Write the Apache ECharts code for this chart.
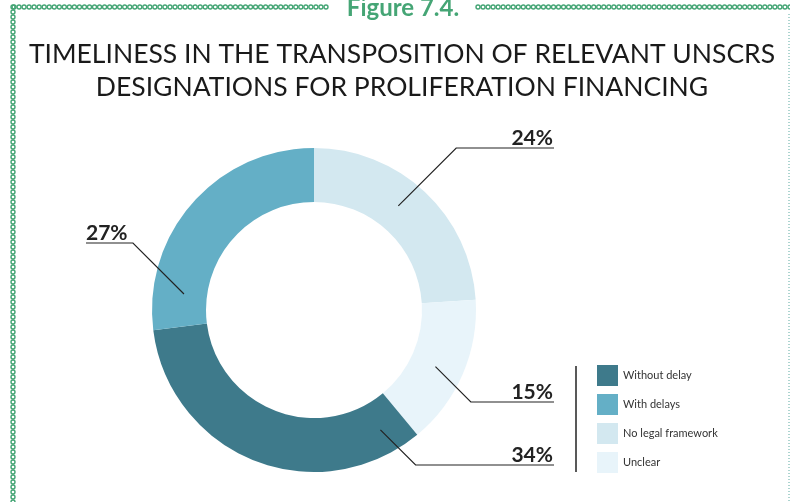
<!DOCTYPE html>
<html><head><meta charset="utf-8">
<script src="https://cdn.jsdelivr.net/npm/echarts@6/dist/echarts.min.js"></script>
<style>html,body{margin:0;padding:0;background:#fff}#c{width:790px;height:502px}</style>
</head><body><div id="c"></div>
<script>
// ---- data ----
const categories = ['No legal framework', 'Unclear', 'Without delay', 'With delays'];
const shares = [24, 15, 34, 27];
const legendOrder = ['Without delay', 'With delays', 'No legal framework', 'Unclear'];
const titleLines = ['TIMELINESS IN THE TRANSPOSITION OF RELEVANT UNSCRS', 'DESIGNATIONS FOR PROLIFERATION FINANCING'];
const figureLabel = 'Figure 7.4.';

// ---- style / layout ----
const sliceColors = {
  'Without delay': '#3e7a8b',
  'With delays': '#64afc6',
  'No legal framework': '#d3e8f0',
  'Unclear': '#e8f4fa'
};
const CX = 314, CY = 310, R0 = 108, R1 = 162;
const leader = {
  'No legal framework': { angle: 39, r: 134, lineY: 148, side: 'right' },
  'Unclear': { angle: 115, r: 134, lineY: 402, side: 'right' },
  'Without delay': { angle: 151, r: 137, lineY: 465, side: 'right' },
  'With delays': { angle: 277, r: 131, lineY: 243, side: 'left' }
};
const RIGHT_X = 554, LEFT_X = 86;
const GREEN = '#45a575';

const graphics = [];
function chain(x1, y1, x2, y2) {
  const len = Math.hypot(x2 - x1, y2 - y1);
  const n = Math.floor(len / 5);
  for (let i = 0; i <= n; i++) {
    const t = n ? i / n : 0;
    graphics.push({
      type: 'circle', silent: true,
      shape: { cx: x1 + (x2 - x1) * t, cy: y1 + (y2 - y1) * t, r: 2 },
      style: { fill: 'none', stroke: GREEN, lineWidth: 1.4 }
    });
  }
}
chain(14, 7, 326, 7);
chain(478, 7, 790, 7);
chain(13, 7, 13, 502);
graphics.push({
  type: 'line', silent: true,
  shape: { x1: 789, y1: 14, x2: 789, y2: 502 },
  style: { stroke: '#5aa9a0', lineWidth: 1, lineDash: [1, 2] }
});
graphics.push({
  type: 'text', silent: true,
  style: { text: figureLabel, x: 403, y: 8, align: 'center', verticalAlign: 'middle',
    font: 'bold 24px Lato', fill: GREEN }
});
titleLines.forEach((t, i) => {
  graphics.push({
    type: 'text', silent: true,
    style: { text: t, x: 402, y: 54 + i * 33, align: 'center', verticalAlign: 'middle',
      font: 'normal 26.5px Lato', fill: '#1a1a1a' }
  });
});
graphics.push({
  type: 'line', silent: true,
  shape: { x1: 576, y1: 366, x2: 576, y2: 472 },
  style: { stroke: '#222', lineWidth: 1.5 }
});

function leaderLayout(p) {
  const name = categories[p.dataIndex];
  const L = leader[name];
  const a = L.angle * Math.PI / 180;
  const sx = CX + L.r * Math.sin(a);
  const sy = CY - L.r * Math.cos(a);
  const dy = Math.abs(L.lineY - sy);
  const right = L.side === 'right';
  const ex = right ? sx + dy : sx - dy;
  const endX = right ? RIGHT_X : LEFT_X;
  return {
    x: right ? endX - 1 : endX,
    y: L.lineY - 10,
    align: right ? 'right' : 'left',
    verticalAlign: 'middle',
    labelLinePoints: [[sx, sy], [ex, L.lineY], [endX, L.lineY]]
  };
}

const chart = echarts.init(document.getElementById('c'), null, { renderer: 'canvas' });
chart.setOption({
  animation: false,
  backgroundColor: '#fff',
  graphic: graphics,
  legend: {
    data: legendOrder,
    orient: 'vertical',
    left: 597, top: 365,
    itemWidth: 21, itemHeight: 21, itemGap: 8,
    padding: 0,
    icon: 'rect',
    selectedMode: false,
    textStyle: { fontSize: 11, color: '#333', fontFamily: 'Lato' }
  },
  series: [{
    type: 'pie',
    z: 2,
    center: [CX, CY],
    radius: [R0, R1],
    startAngle: 90,
    clockwise: true,
    emphasis: { disabled: true },
    data: categories.map((c, i) => ({ name: c, value: shares[i], itemStyle: { color: sliceColors[c] } })),
    label: { show: false },
    labelLine: { show: false }
  }, {
    // label / leader-line overlay drawn above the ring
    type: 'pie',
    z: 5,
    silent: true,
    legendHoverLink: false,
    center: [CX, CY],
    radius: [R0, R1],
    startAngle: 90,
    clockwise: true,
    avoidLabelOverlap: false,
    emphasis: { disabled: true },
    itemStyle: { color: 'transparent', borderWidth: 0 },
    data: categories.map((c, i) => ({ name: c + ' ', value: shares[i] })),
    label: {
      show: true,
      position: 'outside',
      formatter: '{c}%',
      fontFamily: 'Lato',
      fontWeight: 'bold',
      fontSize: 21,
      color: '#222'
    },
    labelLine: {
      show: true,
      lineStyle: { color: '#222', width: 1.2 }
    },
    labelLayout: leaderLayout
  }]
});
</script>
</body></html>
